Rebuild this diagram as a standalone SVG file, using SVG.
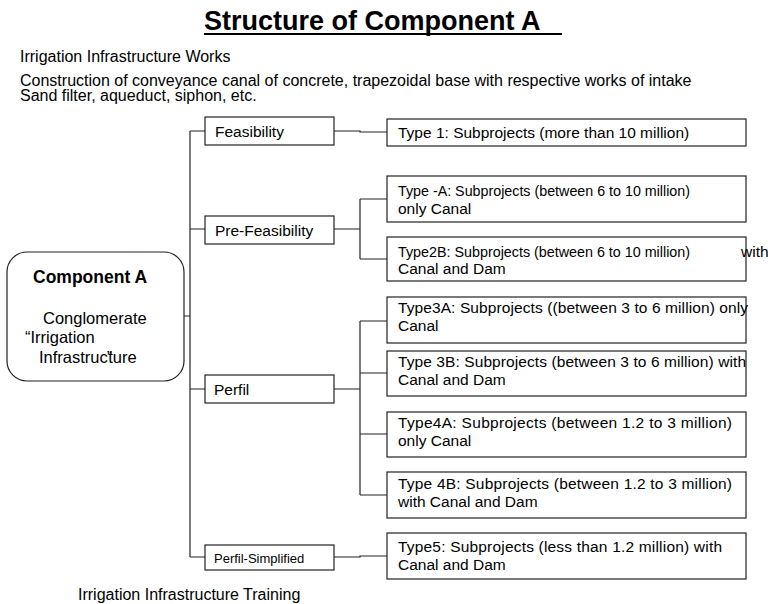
<svg xmlns="http://www.w3.org/2000/svg" width="768" height="604" viewBox="0 0 768 604">
<style>
text{font-family:"Liberation Sans",Arial,sans-serif;fill:#000}
.t{font-size:15.5px}
.h{font-size:16px}
.c{font-size:16.5px}
.box{fill:#fff;stroke:#222;stroke-width:1.2}
.ln{stroke:#222;stroke-width:1.2;fill:none}
</style>
<rect width="768" height="604" fill="#fff"/>
<g id="title">
<text x="204" y="30" font-size="27" font-weight="bold">Structure of Component A</text>
<line x1="204" y1="34" x2="562" y2="34" stroke="#000" stroke-width="2"/>
</g>
<g id="header">
<text class="h" x="20" y="62">Irrigation Infrastructure Works</text>
<text class="h" x="20" y="86">Construction of conveyance canal of concrete, trapezoidal base with respective works of intake</text>
<text class="h" x="20" y="101">Sand filter, aqueduct, siphon, etc.</text>
</g>
<g id="connectors" class="ln">
<path d="M184 316H190M190 131V557"/>
<path d="M190 131H205M190 229H205M190 389H205M190 557H205"/>
<path d="M334 131H360V132H387"/>
<path d="M334 229H360M360 199V259M360 199H387M360 259H387"/>
<path d="M334 389H360M360 321V495M360 321H387M360 373H387M360 434H387M360 495H387"/>
<path d="M334 557H360V556H387"/>
</g>
<g id="compA">
<rect class="box" x="7" y="252" width="177" height="129" rx="20"/>
<text x="33" y="283" font-size="17.5" font-weight="bold">Component A</text>
<text class="c" x="43" y="324">Conglomerate</text>
<text class="c" x="25" y="343">“Irrigation</text>
<text class="c" x="39" y="363">Infrastruc<tspan dx="-1">”</tspan><tspan dx="-4">ture</tspan></text>
</g>
<g id="feasibility">
<rect class="box" x="205" y="117" width="129" height="28"/>
<text class="t" x="215" y="137">Feasibility</text>
</g>
<g id="prefeasibility">
<rect class="box" x="205" y="216" width="129" height="28"/>
<text class="t" x="215" y="236">Pre-Feasibility</text>
</g>
<g id="perfil">
<rect class="box" x="205" y="375" width="129" height="28"/>
<text class="t" x="214" y="395">Perfil</text>
</g>
<g id="perfilsimplified">
<rect class="box" x="205" y="545" width="129" height="25"/>
<text x="214" y="563" font-size="13">Perfil-Simplified</text>
</g>
<g id="type1">
<rect class="box" x="387" y="119" width="359" height="27"/>
<text class="t" x="398" y="138">Type 1: Subprojects (more than 10 million)</text>
</g>
<g id="type2a">
<rect class="box" x="387" y="176" width="359" height="46"/>
<text class="t" x="398" y="196" textLength="292" lengthAdjust="spacingAndGlyphs">Type -A: Subprojects (between 6 to 10 million)</text>
<text class="t" x="398" y="214">only Canal</text>
</g>
<g id="type2b">
<rect class="box" x="387" y="237" width="359" height="44"/>
<text class="t" x="398" y="257" textLength="292" lengthAdjust="spacingAndGlyphs">Type2B: Subprojects (between 6 to 10 million)</text>
<text class="t" x="741" y="257">with</text>
<text class="t" x="398" y="274">Canal and Dam</text>
</g>
<g id="type3a">
<rect class="box" x="387" y="297" width="359" height="46"/>
<text class="t" x="398" y="313" textLength="350">Type3A: Subprojects ((between 3 to 6 million) only</text>
<text class="t" x="398" y="331">Canal</text>
</g>
<g id="type3b">
<rect class="box" x="387" y="351" width="359" height="45"/>
<text class="t" x="398" y="367" textLength="348">Type 3B: Subprojects (between 3 to 6 million) with</text>
<text class="t" x="398" y="385">Canal and Dam</text>
</g>
<g id="type4a">
<rect class="box" x="387" y="412" width="359" height="45"/>
<text class="t" x="398" y="428" textLength="334">Type4A: Subprojects (between 1.2 to 3 million)</text>
<text class="t" x="398" y="446">only Canal</text>
</g>
<g id="type4b">
<rect class="box" x="387" y="472" width="359" height="46"/>
<text class="t" x="398" y="489" textLength="334">Type 4B: Subprojects (between 1.2 to 3 million)</text>
<text class="t" x="398" y="507">with Canal and Dam</text>
</g>
<g id="type5">
<rect class="box" x="387" y="533" width="359" height="46"/>
<text class="t" x="398" y="552" textLength="324">Type5: Subprojects (less than 1.2 million) with</text>
<text class="t" x="398" y="570">Canal and Dam</text>
</g>
<g id="footer">
<text class="h" x="78" y="600">Irrigation Infrastructure Training</text>
</g>
</svg>
